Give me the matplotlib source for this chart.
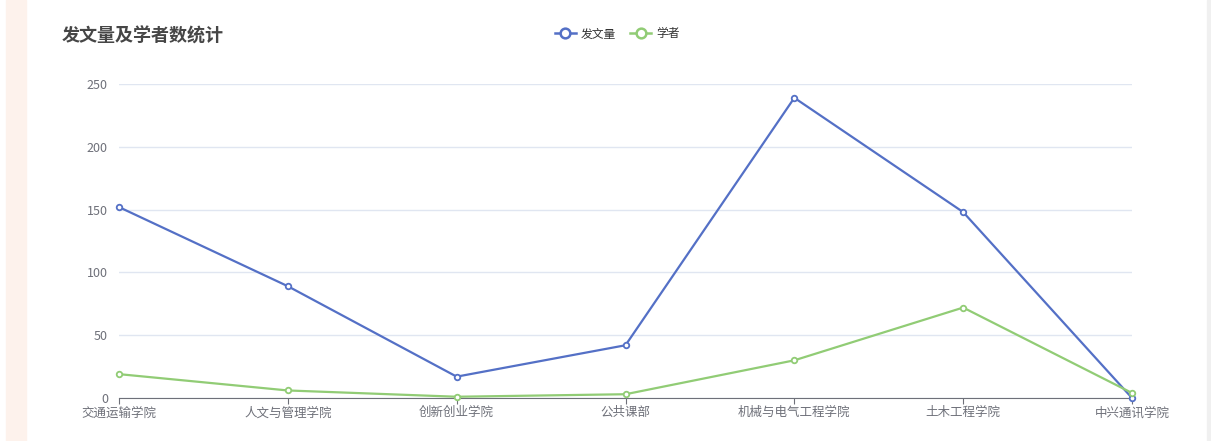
import matplotlib.pyplot as plt
from matplotlib.patches import Rectangle
from matplotlib.lines import Line2D

plt.rcParams['font.family'] = ['Noto Sans CJK SC', 'DejaVu Sans']

categories = ['交通运输学院', '人文与管理学院', '创新创业学院', '公共课部',
              '机械与电气工程学院', '土木工程学院', '中兴通讯学院']
papers = [152, 89, 17, 42, 239, 148, 0]
scholars = [19, 6, 1, 3, 30, 72, 4]
yticks = [0, 50, 100, 150, 200, 250]

blue = '#5470c6'
green = '#91cc75'
label_c = '#6e7079'

fig = plt.figure(figsize=(12.11, 4.41), dpi=100)
fig.patches.append(Rectangle((6 / 1211, 0), 20 / 1211, 1, transform=fig.transFigure,
                             color='#fdf2ec', zorder=0))
fig.patches.append(Rectangle((1207 / 1211, 0), 4 / 1211, 1, transform=fig.transFigure,
                             color='#f0f0f0', zorder=0))

ax = fig.add_axes([119 / 1211, 1 - 398 / 441, (1132 - 119) / 1211, (398 - 84) / 441])
x = range(len(categories))
ax.plot(x, papers, color=blue, lw=1.6, marker='o', ms=4, mfc='white', mec=blue,
        mew=1.3, zorder=3, clip_on=False)
ax.plot(x, scholars, color=green, lw=1.6, marker='o', ms=4, mfc='white', mec=green,
        mew=1.3, zorder=3, clip_on=False)

ax.set_xlim(0, len(categories) - 1)
ax.set_ylim(0, 250)
ax.set_yticks(yticks)
ax.set_xticks(list(x))
ax.set_xticklabels(categories)
ax.grid(axis='y', color='#e0e6f1', lw=1)
ax.set_axisbelow(True)
for s in ['top', 'right', 'left']:
    ax.spines[s].set_visible(False)
ax.spines['bottom'].set_color(label_c)
ax.tick_params(axis='y', length=0, pad=8, labelsize=9, labelcolor=label_c)
ax.tick_params(axis='x', length=4, color=label_c, pad=2, labelsize=9, labelcolor=label_c)

fig.text(62 / 1211, 1 - 36 / 441, '发文量及学者数统计', fontsize=13, fontweight='bold',
         color='#464646', va='center')

handles = [
    Line2D([], [], color=blue, lw=1.8, marker='o', ms=7, mfc='white', mec=blue, mew=1.8),
    Line2D([], [], color=green, lw=1.8, marker='o', ms=7, mfc='white', mec=green, mew=1.8),
]
fig.legend(handles, ['发文量', '学者'], loc='center', bbox_to_anchor=(617 / 1211, 1 - 34 / 441),
           ncol=2, frameon=False, fontsize=8.5, handlelength=1.8, handletextpad=0.4,
           columnspacing=1.2, labelcolor='#333333')

fig.savefig('out.png', dpi=100, facecolor='white')
